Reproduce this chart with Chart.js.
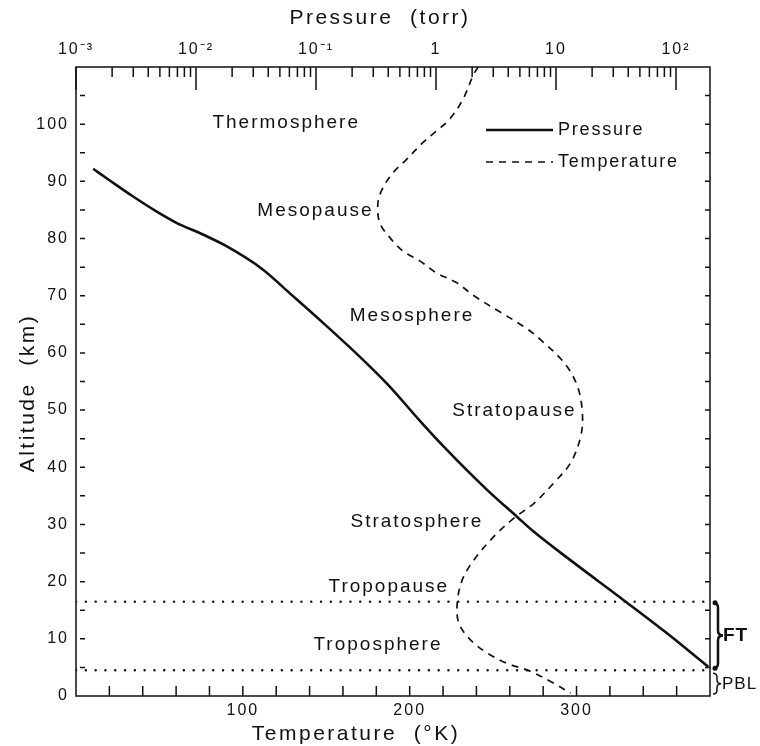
<!DOCTYPE html>
<html>
<head>
<meta charset="utf-8">
<script src="https://cdn.jsdelivr.net/npm/chart.js@4.4.1/dist/chart.umd.min.js"></script>
<style>
    body { margin: 0; background: #fff; }
    #wrap { width: 760px; height: 746px; }
</style>
</head>
<body>
<div id="wrap"><canvas id="atmoChart" width="760" height="746"></canvas></div>
<script>
// values
const pressureTorr = [0.00139, 0.0019, 0.00297, 0.00464, 0.00681, 0.0114, 0.0178, 0.036, 0.06, 0.114, 0.23, 0.408, 0.722, 1.15, 2.65, 4.7, 6.47, 13.1, 36.4, 83.7, 186];
const pressureAltitude = [92.2, 90.2, 87.4, 84.8, 82.8, 80.7, 78.7, 74.6, 70.5, 65.3, 59.4, 54.2, 48.3, 43.7, 36.1, 31.4, 28.8, 23.8, 16.8, 11.0, 5.1];

const temperatureK = [241, 238, 232, 224, 216, 208, 198, 190, 184, 181, 182, 188, 196, 206, 216, 228, 239, 254.5, 269.5, 278.5, 292.5, 300.5, 303.5, 302.5, 296.5, 286.5, 274.5, 262.5, 250.5, 238.5, 231.5, 228.5, 229.5, 236.5, 246.5, 258.5, 272.5, 286.5, 296.5];
const temperatureAltitude = [110, 108.5, 104.4, 100.9, 98.8, 96.8, 93.8, 91.5, 88.9, 86.3, 82.8, 80.2, 77.8, 76.1, 74.0, 72.3, 69.9, 67.1, 64.4, 62.3, 58.3, 54.2, 49.5, 45.4, 40.8, 37.3, 33.7, 31.1, 27.9, 23.8, 20.3, 16.2, 12.7, 9.8, 7.5, 5.7, 4.3, 2.2, 0.5];

const boundaryAltitude = [16.5, 4.5];

const pressureTickValues = [0.001, 0.01, 0.1, 1, 10, 100];
const pressureTickLabels = ['10⁻³', '10⁻²', '10⁻¹', '1', '10', '10²'];
const temperatureTickValues = [100, 200, 300];
const altitudeTickValues = [0, 10, 20, 30, 40, 50, 60, 70, 80, 90, 100];

const regionNames = ['Thermosphere', 'Mesopause', 'Mesosphere', 'Stratopause', 'Stratosphere', 'Tropopause', 'Troposphere'];
const regionTemp = [126, 143.5, 201.4, 262.8, 204.3, 187.5, 181];
const regionAlt = [100.2, 84.8, 66.5, 49.8, 30.5, 19.1, 8.9];

const FONT = "'Liberation Sans', Arial, Helvetica, sans-serif";
Chart.defaults.font.family = FONT;
Chart.defaults.color = '#111';

const toPoints = (xs, ys) => xs.map((x, i) => ({ x: x, y: ys[i] }));

function text(ctx, str, x, y, size, opts = {}) {
    ctx.save();
    ctx.font = (opts.bold ? 'bold ' : '') + size + 'px ' + FONT;
    ctx.letterSpacing = (opts.spacing || 0) + 'px';
    ctx.fillStyle = '#111';
    ctx.textAlign = opts.align || 'center';
    ctx.textBaseline = 'middle';
    ctx.translate(x, y);
    if (opts.rotate) ctx.rotate(opts.rotate);
    ctx.fillText(str, 0, 0);
    ctx.restore();
}

function brace(ctx, x, y1, y2, w) {
    const ym = (y1 + y2) / 2, xm = x + w / 2, r = Math.min(w / 2, (y2 - y1) / 4);
    ctx.beginPath();
    ctx.moveTo(x, y1);
    ctx.quadraticCurveTo(xm, y1, xm, y1 + r);
    ctx.lineTo(xm, ym - r);
    ctx.quadraticCurveTo(xm, ym, x + w, ym);
    ctx.quadraticCurveTo(xm, ym, xm, ym + r);
    ctx.lineTo(xm, y2 - r);
    ctx.quadraticCurveTo(xm, y2, x, y2);
    ctx.stroke();
}

const decor = {
    id: 'decor',
    beforeDraw(chart) {
        chart.ctx.letterSpacing = '2px';
    },
    afterDraw(chart) {
        const { ctx, chartArea: a, scales } = chart;
        const xT = scales.x, xP = scales.x2, y = scales.y;

        ctx.save();
        ctx.strokeStyle = '#111';
        ctx.lineWidth = 1.5;
        ctx.strokeRect(a.left, a.top, a.right - a.left, a.bottom - a.top);

        // inward tick marks
        ctx.beginPath();
        for (let e = -3; e <= 2; e++) {
            for (let m = 1; m <= 9; m++) {
                const v = m * Math.pow(10, e);
                if (v > xP.max) break;
                const px = xP.getPixelForValue(v);
                ctx.moveTo(px, a.top);
                ctx.lineTo(px, a.top + (m === 1 ? 23 : 10));
            }
        }
        for (let t = 20; t < xT.max; t += 20) {
            const px = xT.getPixelForValue(t);
            ctx.moveTo(px, a.bottom);
            ctx.lineTo(px, a.bottom - 10);
        }
        for (let h = 5; h < y.max; h += 5) {
            const py = y.getPixelForValue(h);
            ctx.moveTo(a.left + 4, py);
            ctx.lineTo(a.left + 9, py);
            ctx.moveTo(a.right - 5, py);
            ctx.lineTo(a.right, py);
        }
        ctx.stroke();

        // region names
        regionNames.forEach((name, i) => {
            text(ctx, name, xT.getPixelForValue(regionTemp[i]), y.getPixelForValue(regionAlt[i]), 19, { spacing: 2 });
        });

        // axis titles
        text(ctx, 'Pressure  (torr)', 380, 18, 21, { spacing: 2.5 });
        text(ctx, 'Temperature  (°K)', 356, 734, 21, { spacing: 2.5 });
        text(ctx, 'Altitude  (km)', 28, 393, 21, { spacing: 2.5, rotate: -Math.PI / 2 });

        // legend
        chart.data.datasets.slice(0, 2).forEach((ds, i) => {
            const ly = 130 + i * 32;
            ctx.save();
            ctx.strokeStyle = ds.borderColor;
            ctx.lineWidth = ds.borderWidth;
            ctx.setLineDash(ds.borderDash || []);
            ctx.beginPath();
            ctx.moveTo(486, ly);
            ctx.lineTo(553, ly);
            ctx.stroke();
            ctx.restore();
            text(ctx, ds.label, 558, ly, 18, { spacing: 1.8, align: 'left' });
        });

        // FT / PBL braces on the right
        const yTop = y.getPixelForValue(boundaryAltitude[0]);
        const yLow = y.getPixelForValue(boundaryAltitude[1]);
        ctx.lineWidth = 2.5;
        brace(ctx, a.right + 3, yTop + 1, yLow - 2, 10);
        ctx.fillStyle = '#111';
        [yTop + 1, yLow - 2].forEach(py => {
            ctx.beginPath();
            ctx.arc(a.right + 5, py, 2.5, 0, Math.PI * 2);
            ctx.fill();
        });
        text(ctx, 'FT', a.right + 13, (yTop + yLow) / 2, 19, { bold: true, spacing: 1, align: 'left' });
        ctx.lineWidth = 1.5;
        brace(ctx, a.right + 3, yLow + 3, a.bottom - 2, 8);
        text(ctx, 'PBL', a.right + 12, (yLow + a.bottom) / 2 + 1, 17, { spacing: 1, align: 'left' });
        ctx.restore();
    }
};

const ctxAtmo = document.getElementById('atmoChart').getContext('2d');

const atmoChart = new Chart(ctxAtmo, {
    type: 'line',
    data: {
        datasets: [{
            label: 'Pressure',
            data: toPoints(pressureTorr, pressureAltitude),
            xAxisID: 'x2',
            yAxisID: 'y',
            borderColor: '#111',
            borderWidth: 2.6,
            pointRadius: 0,
            cubicInterpolationMode: 'monotone'
        }, {
            label: 'Temperature',
            data: toPoints(temperatureK, temperatureAltitude),
            xAxisID: 'x',
            yAxisID: 'y',
            borderColor: '#111',
            borderWidth: 1.7,
            borderDash: [7, 6],
            pointRadius: 0,
            tension: 0.35
        }, {
            label: 'tropopause',
            data: [{ x: 0, y: boundaryAltitude[0] }, { x: 380, y: boundaryAltitude[0] }],
            xAxisID: 'x',
            yAxisID: 'y',
            borderColor: '#111',
            borderWidth: 2.4,
            borderDash: [0.1, 9.7],
            borderCapStyle: 'round',
            pointRadius: 0
        }, {
            label: 'pbl top',
            data: [{ x: 0, y: boundaryAltitude[1] }, { x: 380, y: boundaryAltitude[1] }],
            xAxisID: 'x',
            yAxisID: 'y',
            borderColor: '#111',
            borderWidth: 2.4,
            borderDash: [0.1, 9.7],
            borderCapStyle: 'round',
            pointRadius: 0
        }]
    },
    options: {
        responsive: false,
        animation: false,
        layout: { padding: { left: 0, top: 0, right: 50, bottom: 0 } },
        plugins: {
            legend: { display: false },
            tooltip: { enabled: false }
        },
        scales: {
            x: {
                type: 'linear',
                position: 'bottom',
                min: 0,
                max: 380,
                afterBuildTicks: s => { s.ticks = temperatureTickValues.map(v => ({ value: v })); },
                afterFit: s => { s.height = 50; },
                grid: { display: false, drawTicks: false },
                border: { display: false },
                ticks: { font: { size: 16 }, padding: 5, maxRotation: 0 }
            },
            x2: {
                type: 'logarithmic',
                position: 'top',
                min: 0.001,
                max: 192,
                afterBuildTicks: s => { s.ticks = pressureTickValues.map(v => ({ value: v })); },
                afterFit: s => { s.height = 67; },
                grid: { display: false, drawTicks: false },
                border: { display: false },
                ticks: {
                    font: { size: 16 },
                    padding: 8,
                    maxRotation: 0,
                    autoSkip: false,
                    callback: (v, i) => pressureTickLabels[i]
                }
            },
            y: {
                type: 'linear',
                position: 'left',
                min: 0,
                max: 110,
                afterBuildTicks: s => { s.ticks = altitudeTickValues.map(v => ({ value: v })); },
                afterFit: s => { s.width = 76; },
                grid: { display: false, drawTicks: false },
                border: { display: false },
                ticks: { font: { size: 16 }, padding: 7 }
            }
        }
    },
    plugins: [decor]
});
</script>
</body>
</html>
